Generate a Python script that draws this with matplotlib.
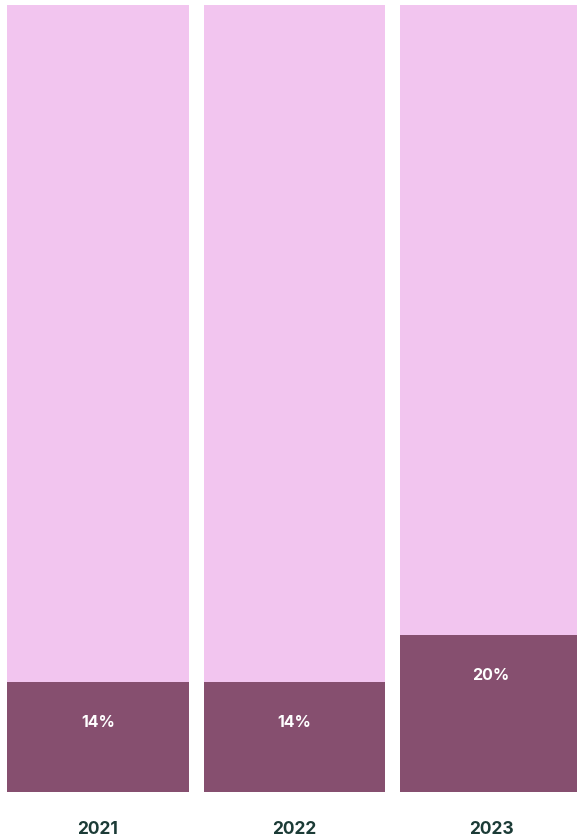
import matplotlib
matplotlib.use("Agg")
import matplotlib.pyplot as plt

years = ["2021", "2022", "2023"]
share = [14, 14, 20]          # dark segment, percent
total = [100, 100, 100]

light = "#f2c5ef"
dark = "#864f6f"
text_dark = "#1b3b36"

plt.rcParams["font.family"] = ["Inter", "DejaVu Sans"]

fig = plt.figure(figsize=(5.77, 8.39), dpi=100)
ax = fig.add_axes([0, 47 / 839, 1, 787 / 839])

x = range(len(years))
width = 0.926
ax.bar(x, total, width=width, color=light)
ax.bar(x, share, width=width, color=dark)

for xi, v in zip(x, share):
    ax.text(xi, v - 5.2, f"{v}%", ha="center", va="center",
            color="white", fontsize=11.5, fontweight="bold")

ax.set_xlim(-98 / 196.5, (577 - 98) / 196.5)
ax.set_ylim(0, 100)
ax.set_xticks(list(x))
ax.set_xticklabels(years, fontsize=12.5, fontweight="bold", color=text_dark)
ax.tick_params(axis="x", length=0, pad=21)
ax.set_yticks([])
for s in ax.spines.values():
    s.set_visible(False)

fig.savefig("out.png", dpi=100)
